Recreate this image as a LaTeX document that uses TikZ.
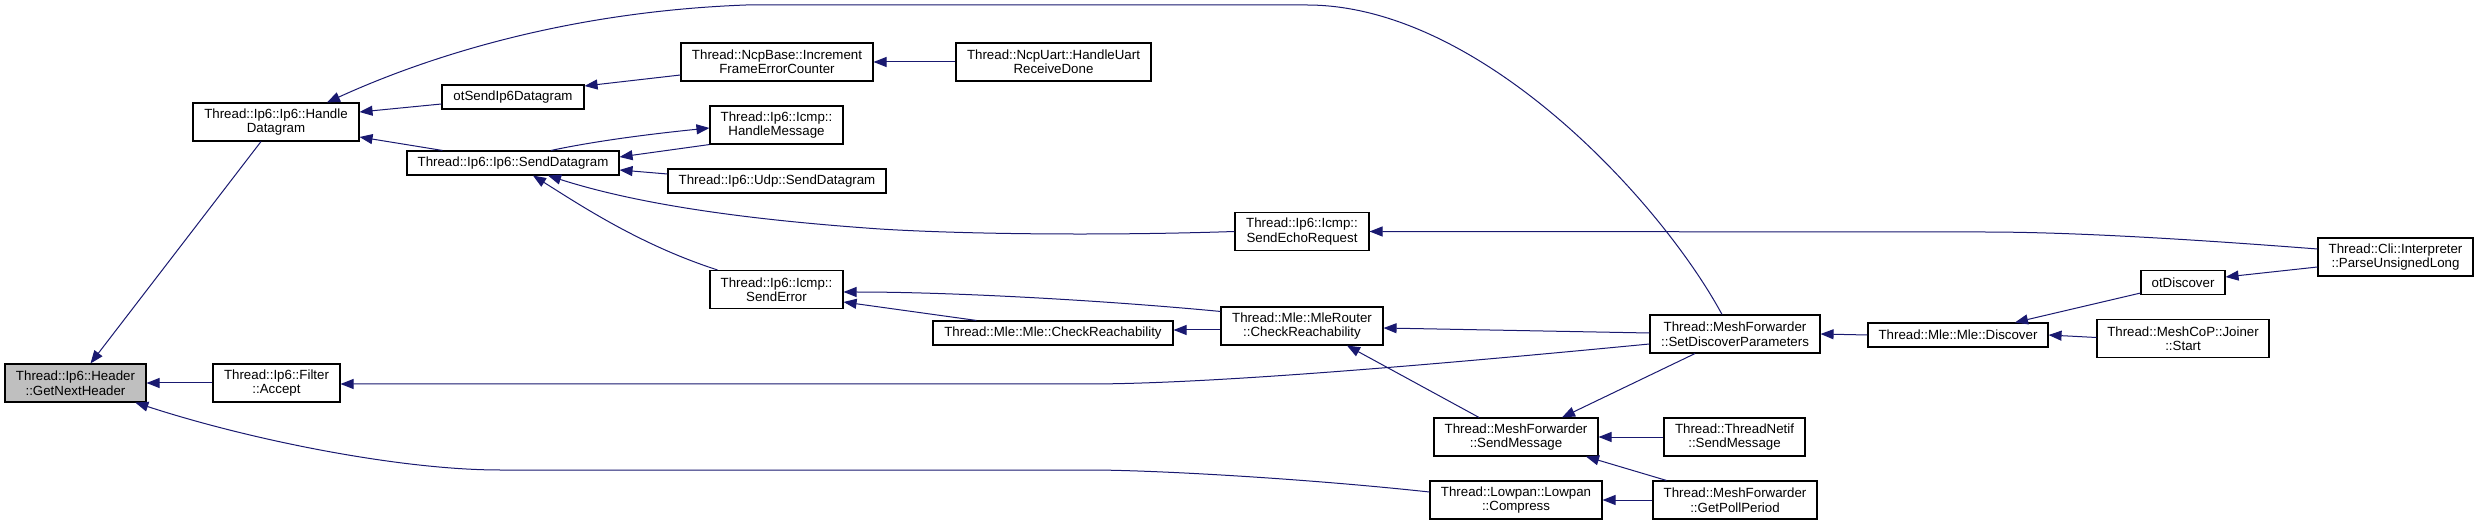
\documentclass[tikz,border=0pt]{standalone}
\usepackage{fontspec}
\setmainfont{Liberation Sans}
\usetikzlibrary{arrows.meta}
\definecolor{edgecol}{HTML}{191970}
\begin{document}
\begin{tikzpicture}[x=1pt,y=-1pt,
  fn/.style={draw=black, line width=1.1pt, fill=white, inner sep=0pt, align=center,
             minimum height=38pt, font=\fontsize{13.3}{14.5}\selectfont},
  fnone/.style={fn, minimum height=24pt},
  edge/.style={draw=edgecol, line width=1pt, -{Triangle[length=13pt,width=10pt]}}]
\useasboundingbox (0,0) rectangle (2479,526);
\fill[white] (0,0) rectangle (2479,526);

% nodes
\node[fn, minimum width=141pt, fill=gray!50] (gnh) at (75.5,383) {Thread::Ip6::Header\\::GetNextHeader};
\node[fn, minimum width=166pt] (hd) at (276,122) {Thread::Ip6::Ip6::Handle\\Datagram};
\node[fn, minimum width=127pt] (fa) at (276.5,383) {Thread::Ip6::Filter\\::Accept};
\node[fnone, minimum width=142pt] (otsend) at (513,97) {otSendIp6Datagram};
\node[fnone, minimum width=212pt] (sd) at (513,163) {Thread::Ip6::Ip6::SendDatagram};
\node[fn, minimum width=192pt] (ncpbase) at (777,62) {Thread::NcpBase::Increment\\FrameErrorCounter};
\node[fn, minimum width=133pt] (hm) at (776.5,125) {Thread::Ip6::Icmp::\\HandleMessage};
\node[fnone, minimum width=218pt] (udp) at (777,181) {Thread::Ip6::Udp::SendDatagram};
\node[fn, minimum width=133pt] (se) at (776.5,289.5) {Thread::Ip6::Icmp::\\SendError};
\node[fn, minimum width=195pt] (ncpuart) at (1053.5,62) {Thread::NcpUart::HandleUart\\ReceiveDone};
\node[fnone, minimum width=240pt] (mlecr) at (1053,333) {Thread::Mle::Mle::CheckReachability};
\node[fn, minimum width=134pt] (ser) at (1302,231.5) {Thread::Ip6::Icmp::\\SendEchoRequest};
\node[fn, minimum width=162pt] (mrcr) at (1302,326) {Thread::Mle::MleRouter\\::CheckReachability};
\node[fn, minimum width=164pt] (msm) at (1516,437) {Thread::MeshForwarder\\::SendMessage};
\node[fn, minimum width=172pt] (lc) at (1516,500) {Thread::Lowpan::Lowpan\\::Compress};
\node[fn, minimum width=170pt] (sdp) at (1735,334) {Thread::MeshForwarder\\::SetDiscoverParameters};
\node[fn, minimum width=141pt] (tn) at (1734.5,437) {Thread::ThreadNetif\\::SendMessage};
\node[fn, minimum width=164pt] (gpp) at (1735,500) {Thread::MeshForwarder\\::GetPollPeriod};
\node[fnone, minimum width=180pt] (disc) at (1958,335) {Thread::Mle::Mle::Discover};
\node[fnone, minimum width=84pt] (otd) at (2183,282.5) {otDiscover};
\node[fn, minimum width=172pt] (js) at (2183,338.5) {Thread::MeshCoP::Joiner\\::Start};
\node[fn, minimum width=155pt] (pul) at (2395.5,257) {Thread::Cli::Interpreter\\::ParseUnsignedLong};

% edges (caller -> callee, arrow at callee)
\draw[edge] (hd) -- (gnh);
\draw[edge] (fa.west) -- (gnh.east);
\draw[edge] ([yshift=8pt]lc.west) .. controls (1300,478) and (1150,470) .. (1090,470)
   -- (500,470) .. controls (400,470) and (250,440) .. (gnh);
\draw[edge] ([yshift=-7pt]otsend.west) -- ([yshift=10pt]hd.east);
\draw[edge] ([xshift=36pt]sd.north west) -- ([yshift=-15pt]hd.east);
\draw[edge] ([xshift=-13pt]sdp.north) .. controls (1660,200) and (1480,5) .. (1307,5)
   -- (746,5) .. controls (560,12) and (420,60) .. ([xshift=51pt]hd.north);
\draw[edge] ([yshift=-13pt]ncpbase.west) -- ([yshift=11pt]otsend.east);
\draw[edge] (ncpuart.west) -- (ncpbase.east);
\draw[edge] (hm.south west) -- ([yshift=6pt]sd.east);
\draw[edge] ([xshift=38pt]sd.north) .. controls (600,140) and (660,133) .. ([yshift=-3pt]hm.west);
\draw[edge] ([yshift=7pt]udp.west) -- ([yshift=-7pt]sd.east);
\draw[edge] (ser.west) .. controls (1100,236) and (960,234) .. (880,229)
   .. controls (750,220) and (640,205) .. ([xshift=35pt]sd.south);
\draw[edge] ([xshift=-59pt]se.north) .. controls (640,245) and (580,205) .. ([xshift=20pt]sd.south);
\draw[edge] ([yshift=-5pt]mrcr.north west) .. controls (1100,300) and (950,292) .. ([yshift=-2.5pt]se.east);
\draw[edge] ([xshift=44pt]mlecr.north west) -- ([yshift=-12.5pt]se.east);
\draw[edge] ([yshift=-4pt]mrcr.west) -- ([yshift=3pt]mlecr.east);
\draw[edge] ([yshift=1pt]sdp.west) -- ([yshift=-2pt]mrcr.east);
\draw[edge] ([yshift=-10pt]sdp.west) .. controls (1400,368) and (1200,384) .. (1087,384) -- ([yshift=-1pt]fa.east);
\draw[edge] ([xshift=-37pt]msm.north) -- ([xshift=45pt]mrcr.south);
\draw[edge] ([xshift=-40pt]sdp.south) -- ([xshift=46pt]msm.north);
\draw[edge] (tn.west) -- (msm.east);
\draw[edge] ([xshift=14pt]gpp.north west) -- ([xshift=70pt]msm.south);
\draw[edge] (gpp.west) -- (lc.east);
\draw[edge] (disc.west) -- (sdp.east);
\draw[edge] ([yshift=2pt]otd.south west) -- ([xshift=57pt]disc.north);
\draw[edge] ([yshift=1pt]js.west) -- (disc.east);
\draw[edge] ([yshift=-10pt]pul.west) -- ([yshift=5.5pt]otd.east);
\draw[edge] ([yshift=8pt]pul.west) .. controls (2150,236) and (2050,232) .. (1983,232) -- (ser.east);
\end{tikzpicture}
\end{document}
